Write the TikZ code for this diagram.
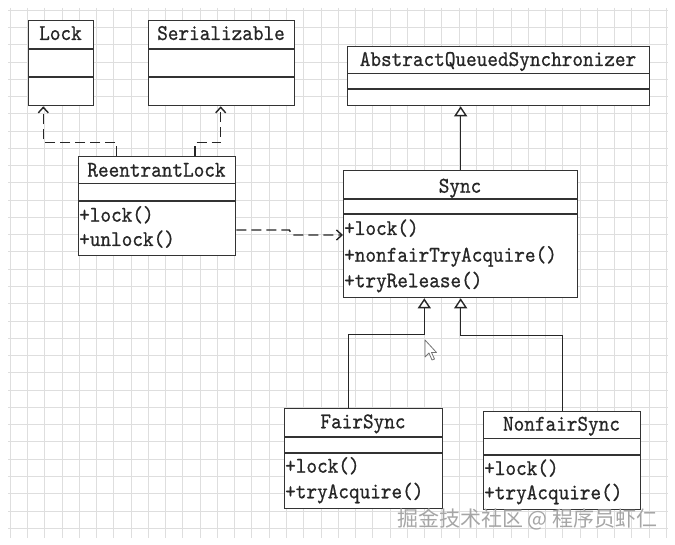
\documentclass[tikz,border=0pt]{standalone}
\usepackage{fontspec}
\newfontfamily\umlfont{lmmono10-regular.otf}[FakeStretch=0.9,FakeBold=0.7]
\newfontfamily\cjk{Noto Sans CJK SC}
\usetikzlibrary{arrows.meta}
\tikzset{
  gridline/.style={draw=black!13, line width=0.6pt},
  cls/.style={draw=black!80, line width=1.3pt, anchor=north west, inner sep=0pt, fill=white},
  sepline/.style={draw=black!80, line width=1.3pt},
  umltext/.style={font=\umlfont\fontsize{22.5}{24}\selectfont, inner sep=0pt, text=black!85},
  title/.style={umltext, anchor=base},
  meth/.style={umltext, anchor=base west},
  conn/.style={draw=black!85, line width=1.4pt},
  dep/.style={conn, dash pattern=on 10pt off 5pt, -{Straight Barb[length=5.5pt,width=10pt]}},
  gen/.style={conn, -{Triangle[length=10pt,width=13pt,fill=white]}},
}
\begin{document}
\begin{tikzpicture}[x=1pt,y=-1pt]
\useasboundingbox (0,0) rectangle (675,545);
\fill[white] (0,0) rectangle (675,545);
% grid
\foreach \i in {0,...,38} \draw[gridline] ({10+17.27*\i},8) -- ({10+17.27*\i},538);
\foreach \j in {0,...,30} \draw[gridline] (8,{10+17.27*\j}) -- (668,{10+17.27*\j});

% Lock
\node[cls, minimum width=65pt, minimum height=85pt] (lock) at (28,20) {};
\draw[sepline] (28,49) -- (93,49);
\draw[sepline] (28,77) -- (93,77);
\node[title] (lockT) at (60.5,40) {Lock};

% Serializable
\node[cls, minimum width=146pt, minimum height=85pt] (ser) at (148,20) {};
\draw[sepline] (148,49) -- (294,49);
\draw[sepline] (148,77) -- (294,77);
\node[title] (serT) at (221,40) {Serializable};

% ReentrantLock
\node[cls, minimum width=157pt, minimum height=99pt] (rl) at (78,156) {};
\draw[sepline] (78,183.5) -- (235,183.5);
\draw[sepline] (78,201) -- (235,201);
\node[title] (rlT) at (156.5,176.7) {ReentrantLock};
\node[meth] (rlM1) at (79,221.7) {+lock()};
\node[meth] (rlM2) at (79,246) {+unlock()};

% AbstractQueuedSynchronizer
\node[cls, minimum width=302pt, minimum height=59pt] (aqs) at (347,46) {};
\draw[sepline] (347,73.5) -- (649,73.5);
\draw[sepline] (347,89) -- (649,89);
\node[title] (aqsT) at (498,66) {AbstractQueuedSynchronizer};

% Sync
\node[cls, minimum width=234pt, minimum height=127pt] (sync) at (343,170) {};
\draw[sepline] (343,199) -- (577,199);
\draw[sepline] (343,214) -- (577,214);
\node[title] (syncT) at (460,192.7) {Sync};
\node[meth] (syncM1) at (344,235) {+lock()};
\node[meth] (syncM2) at (344,261.7) {+nonfairTryAcquire()};
\node[meth] (syncM3) at (344,287.3) {+tryRelease()};

% FairSync
\node[cls, minimum width=158pt, minimum height=100pt] (fair) at (284,408) {};
\draw[sepline] (284,437) -- (442,437);
\draw[sepline] (284,453) -- (442,453);
\node[title] (fairT) at (363,428.3) {FairSync};
\node[meth] (fairM1) at (285,472.7) {+lock()};
\node[meth] (fairM2) at (285,498.3) {+tryAcquire()};

% NonfairSync
\node[cls, minimum width=157pt, minimum height=97.5pt] (nf) at (483,411) {};
\draw[sepline] (483,438.5) -- (640,438.5);
\draw[sepline] (483,455) -- (640,455);
\node[title] (nfT) at (561.5,430.7) {NonfairSync};
\node[meth] (nfM1) at (484,475) {+lock()};
\node[meth] (nfM2) at (484,499.3) {+tryAcquire()};

% helper coordinates for connector attachment points
\coordinate (xa) at (116.7,0);
\coordinate (xb) at (43.3,0);
\coordinate (xc) at (195,0);
\coordinate (xd) at (220.7,0);
\coordinate (ya) at (0,230);
\coordinate (yb) at (0,235);
\coordinate (xe) at (348.3,0);
\coordinate (xf) at (424.3,0);
\coordinate (xg) at (562.7,0);

% connectors
\draw[dep] (rl.north -| xa) -- ++(0,-13.3) -| (lock.south -| xb);
\draw[dep] (rl.north -| xc) -- ++(0,-13.3) -| (ser.south -| xd);
\draw[dep] (rl.east |- ya) -- ++(53,0) -- ++(3,5) -- (sync.west |- yb);
\draw[gen] (sync.north) -- (aqs.south -| sync.north);
\draw[gen] (fair.north -| xe) -- ++(0,-73.3) -| (sync.south -| xf);
\draw[gen] (nf.north -| xg) -- ++(0,-75.7) -| (sync.south);

% mouse cursor
\draw[black!55, fill=white, line width=0.8pt, line join=round]
  (425,340) -- (425,357) -- (429,353) -- (432,360) -- (434.5,359) -- (431.5,352.5) -- (436.5,352.5) -- cycle;

% watermark
\node[font=\cjk\fontsize{21}{23}\selectfont, text=black!35, anchor=base west, inner sep=0pt] (wm) at (397,526.5) {掘金技术社区 @ 程序员虾仁};
\end{tikzpicture}
\end{document}
